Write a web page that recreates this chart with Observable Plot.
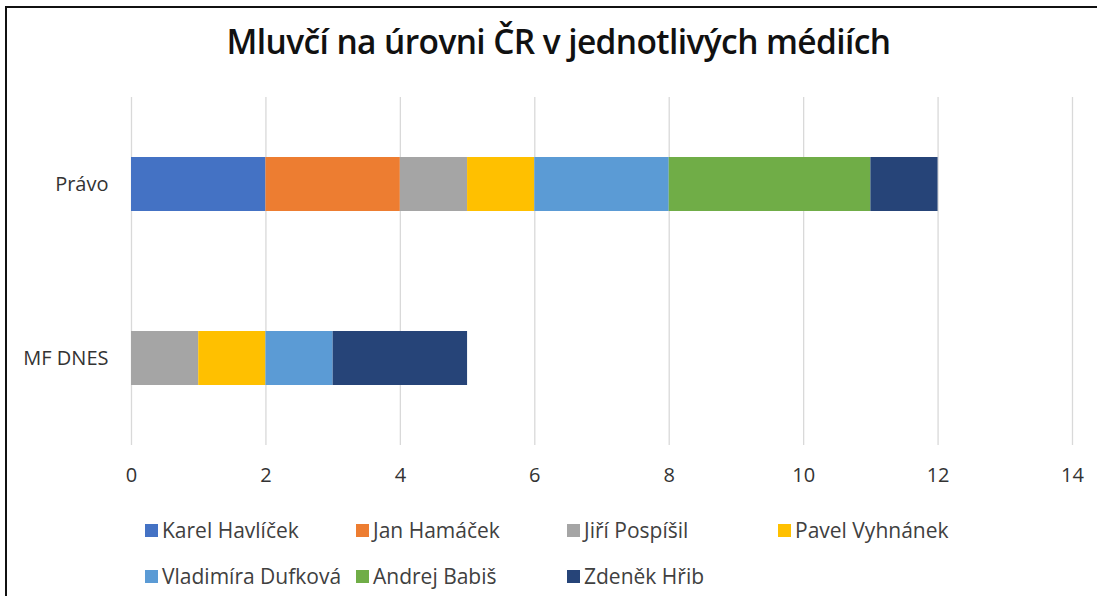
<!DOCTYPE html>
<html><head><meta charset="utf-8">
<script src="https://cdn.jsdelivr.net/npm/d3@7"></script>
<script src="https://cdn.jsdelivr.net/npm/@observablehq/plot@0.6"></script>
<style>
html,body{margin:0;padding:0;background:#fff;width:1097px;height:596px;overflow:hidden;font-family:"Open Sans",sans-serif;}
#frame{position:absolute;left:5px;top:6px;width:1200px;height:700px;border-left:2px solid #111;border-top:2px solid #111;}
#title{position:absolute;left:0;top:18px;width:1117px;text-align:center;font-size:33.5px;font-weight:600;color:#111;letter-spacing:-0.6px;}
#chart{position:absolute;left:0;top:90px;}
#legend{position:absolute;left:145px;top:517px;display:grid;grid-template-columns:211px 211px 211px 211px;row-gap:20px;font-size:21px;color:#404040;}
.item{display:flex;align-items:center;height:26px;white-space:nowrap;}
.sw{width:13px;height:13px;margin-right:4px;flex:none;}
</style></head>
<body>
<div id="frame"></div>
<div id="title">Mluvčí na úrovni ČR v jednotlivých médiích</div>
<div id="chart"></div>
<div id="legend"></div>
<script>
const media = ["Právo", "MF DNES"];
const speakers = ["Karel Havlíček", "Jan Hamáček", "Jiří Pospíšil", "Pavel Vyhnánek", "Vladimíra Dufková", "Andrej Babiš", "Zdeněk Hřib"];
const colors = ["#4472C4", "#ED7D31", "#A5A5A5", "#FFC000", "#5B9BD5", "#70AD47", "#264478"];
const pravo = [2, 2, 1, 1, 2, 3, 1];
const mfdnes = [0, 0, 1, 1, 1, 0, 2];
const xTicks = [0, 2, 4, 6, 8, 10, 12, 14];

const data = [];
speakers.forEach((s, i) => {
  data.push({medium: "Právo", speaker: s, value: pravo[i]});
  data.push({medium: "MF DNES", speaker: s, value: mfdnes[i]});
});

const chart = Plot.plot({
  width: 1097,
  height: 410,
  marginLeft: 131,
  marginRight: 25,
  marginTop: 7,
  marginBottom: 55,
  style: {fontFamily: "'Open Sans', sans-serif", fontSize: "20px", color: "#333", background: "transparent"},
  x: {domain: [0, 14], ticks: xTicks, tickSize: 0, tickPadding: 23, label: null},
  y: {domain: media, padding: 0, tickSize: 0, tickPadding: 23, label: null},
  color: {domain: speakers, range: colors},
  marks: [
    Plot.gridX(xTicks, {stroke: "#d9d9d9", strokeOpacity: 1, strokeWidth: 1.3}),
    Plot.barX(data, Plot.stackX({
      y: "medium", x: "value", fill: "speaker", order: speakers,
      insetTop: 60, insetBottom: 60
    })),
    Plot.axisX({ticks: xTicks, tickSize: 0, tickPadding: 22, fontSize: 20}),
    Plot.axisY({tickSize: 0, tickPadding: 23, fontSize: 20})
  ]
});
document.getElementById("chart").appendChild(chart);

const legend = document.getElementById("legend");
speakers.forEach((s, i) => {
  const it = document.createElement("div");
  it.className = "item";
  const sw = document.createElement("span");
  sw.className = "sw";
  sw.style.background = colors[i];
  it.appendChild(sw);
  it.appendChild(document.createTextNode(s));
  legend.appendChild(it);
});
</script>
</body></html>
